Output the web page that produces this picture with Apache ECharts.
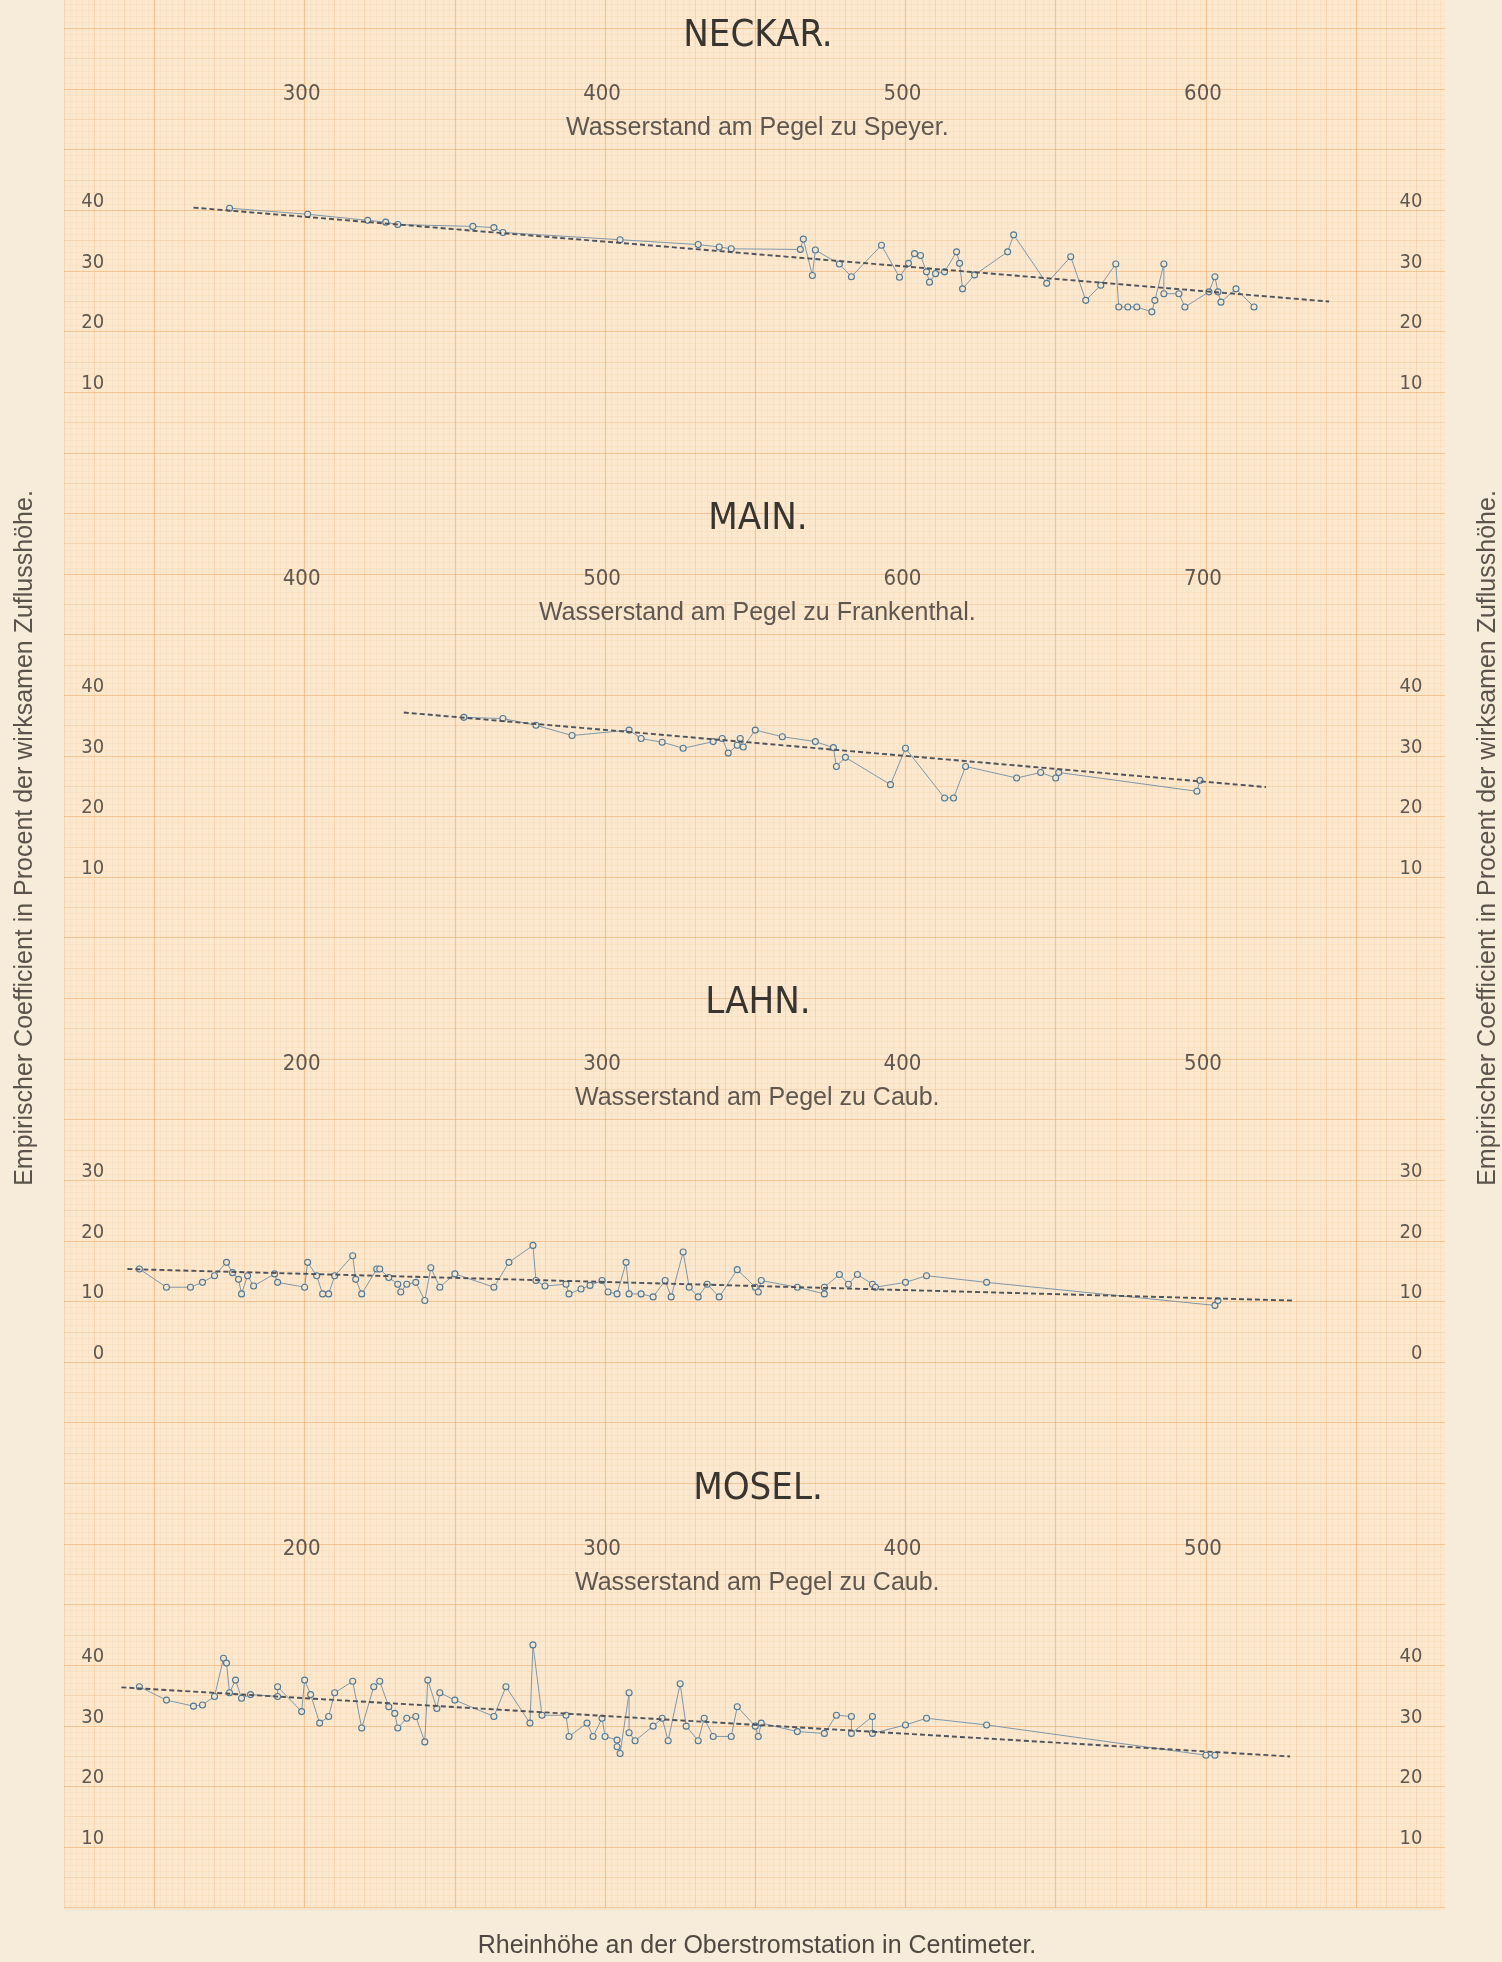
<!DOCTYPE html>
<html><head><meta charset="utf-8">
<script src="https://cdn.jsdelivr.net/npm/echarts@6/dist/echarts.min.js"></script>
<style>html,body{margin:0;padding:0;background:#f7ecd8;}#c{width:1502px;height:1962px;}</style>
</head><body><div id="c"></div>
<script>
// ---------------- data ----------------
const riverTitles = ['NECKAR.', 'MAIN.', 'LAHN.', 'MOSEL.'];
const gaugeNames = ['Wasserstand am Pegel zu Speyer.', 'Wasserstand am Pegel zu Frankenthal.', 'Wasserstand am Pegel zu Caub.', 'Wasserstand am Pegel zu Caub.'];
const xAxisTitle = 'Rheinhöhe an der Oberstromstation in Centimeter.';
const yAxisTitle = 'Empirischer Coefficient in Procent der wirksamen Zuflusshöhe.';

const neckarXTicks = [300, 400, 500, 600];
const mainXTicks = [400, 500, 600, 700];
const lahnXTicks = [200, 300, 400, 500];
const moselXTicks = [200, 300, 400, 500];
const neckarYTicks = [10, 20, 30, 40];
const mainYTicks = [10, 20, 30, 40];
const lahnYTicks = [0, 10, 20, 30];
const moselYTicks = [10, 20, 30, 40];

const neckarPoints = [[276,40.3],[302,39.3],[322,38.3],[328,38.0],[332,37.6],[357,37.3],[364,37.1],[367,36.3],[406,35.1],[432,34.3],[439,33.9],[443,33.6],[466,33.5],[467,35.2],[470,29.2],[471,33.4],[479,31.1],[483,29.0],[493,34.2],[499,28.9],[502,31.2],[504,32.8],[506,32.5],[508,29.8],[509,28.1],[511,29.5],[514,29.8],[518,33.1],[519,31.2],[520,27.0],[524,29.3],[535,33.1],[537,35.9],[548,27.9],[556,32.3],[561,25.1],[566,27.6],[571,31.1],[572,24.0],[575,24.0],[578,24.0],[583,23.2],[584,25.1],[587,31.1],[587,26.2],[592,26.2],[594,24.0],[602,26.5],[604,29.0],[605,26.5],[606,24.8],[611,27.0],[617,24.0]];
const neckarFit = [[264,40.4],[642,24.9]];

const mainPoints = [[454,36.3],[467,36.1],[478,35.0],[490,33.3],[509,34.2],[513,32.8],[520,32.2],[527,31.2],[537,32.3],[540,32.8],[542,30.4],[545,31.7],[546,32.8],[547,31.4],[551,34.2],[560,33.1],[571,32.3],[577,31.3],[578,28.2],[581,29.7],[596,25.2],[601,31.2],[614,23.0],[617,23.0],[621,28.2],[638,26.3],[646,27.2],[651,26.3],[652,27.2],[698,24.1],[699,25.9]];
const mainFit = [[434,37.1],[721,24.8]];

const lahnPoints = [[146,15.3],[155,12.3],[163,12.3],[167,13.1],[171,14.2],[175,16.4],[177,14.7],[179,13.6],[180,11.2],[182,14.2],[184,12.5],[191,14.5],[192,13.1],[201,12.3],[202,16.4],[205,14.2],[207,11.2],[209,11.2],[211,14.2],[217,17.5],[218,13.6],[220,11.2],[225,15.3],[226,15.3],[229,13.9],[232,12.8],[233,11.5],[235,12.8],[238,13.1],[241,10.1],[243,15.5],[246,12.3],[251,14.5],[264,12.3],[269,16.4],[277,19.2],[278,13.4],[281,12.5],[288,12.8],[289,11.2],[293,12.0],[296,12.6],[300,13.4],[302,11.5],[305,11.2],[308,16.4],[309,11.2],[313,11.2],[317,10.7],[321,13.4],[323,10.7],[327,18.1],[329,12.3],[332,10.7],[335,12.8],[339,10.7],[345,15.2],[351,12.3],[352,11.5],[353,13.4],[365,12.3],[374,11.2],[374,12.3],[379,14.4],[382,12.8],[385,14.4],[390,12.8],[391,12.3],[401,13.1],[408,14.2],[428,13.1],[504,9.3],[505,10.1]];
const lahnFit = [[142,15.3],[530,10.1]];

const moselPoints = [[146,36.4],[155,34.2],[164,33.2],[167,33.4],[171,34.8],[174,41.1],[175,40.3],[176,35.4],[178,37.5],[180,34.5],[183,35.1],[192,34.8],[192,36.4],[200,32.3],[201,37.5],[203,35.1],[206,30.4],[209,31.5],[211,35.4],[217,37.3],[220,29.6],[224,36.4],[226,37.3],[229,33.1],[231,32.0],[232,29.6],[235,31.2],[238,31.5],[241,27.3],[242,37.5],[245,32.8],[246,35.4],[251,34.2],[264,31.5],[268,36.4],[276,30.4],[277,43.3],[280,31.7],[288,31.7],[289,28.2],[295,30.4],[297,28.2],[300,31.2],[301,28.2],[305,27.6],[305,26.5],[306,25.4],[309,35.4],[309,28.8],[311,27.5],[317,29.9],[320,31.2],[322,27.5],[326,36.9],[328,29.9],[332,27.5],[334,31.2],[337,28.2],[343,28.2],[345,33.1],[351,29.9],[352,28.2],[353,30.4],[365,29.0],[374,28.7],[378,31.7],[383,31.5],[383,28.7],[390,31.5],[390,28.7],[401,30.1],[408,31.2],[428,30.1],[501,25.1],[504,25.1]];
const moselFit = [[140,36.3],[529,24.9]];

// ---------------- layout / style ----------------
const PXX = 3.0043;   // px per unit on x
const PXY = 6.062;    // px per unit on y
const NARROW = "'Liberation Sans Narrow','DejaVu Sans Condensed','Liberation Sans',sans-serif";
const SANS = "'Liberation Sans','DejaVu Sans',sans-serif";
const TXT = '#5f574f';
const panels = [
  {title: riverTitles[0], gauge: gaugeNames[0], xMin: 200, yMin: 0, yMax: 50, top: 149.4, titleY: 36, xTicks: neckarXTicks, yTicks: neckarYTicks, pts: neckarPoints, fit: neckarFit},
  {title: riverTitles[1], gauge: gaugeNames[1], xMin: 300, yMin: 0, yMax: 50, top: 634.3, titleY: 519, xTicks: mainXTicks, yTicks: mainYTicks, pts: mainPoints, fit: mainFit},
  {title: riverTitles[2], gauge: gaugeNames[2], xMin: 100, yMin: -10, yMax: 40, top: 1119.3, titleY: 1003, xTicks: lahnXTicks, yTicks: lahnYTicks, pts: lahnPoints, fit: lahnFit},
  {title: riverTitles[3], gauge: gaugeNames[3], xMin: 100, yMin: 0, yMax: 50, top: 1604.3, titleY: 1489, xTicks: moselXTicks, yTicks: moselYTicks, pts: moselPoints, fit: moselFit}
];

const hidden = {axisLine: {show: false}, axisTick: {show: false}, axisLabel: {show: false}};
const grids = [
  {left: 4.2, top: -32.2, width: 500 * PXX, height: 320 * PXY, containLabel: false, outerBoundsMode: 'none'},
  {left: 4.2, top: -32.2, width: 500 * PXX, height: 320 * PXY, containLabel: false, outerBoundsMode: 'none'}
];
const FINE = 'rgba(240,182,122,0.11)';
const MEDIUM = 'rgba(238,172,108,0.2)';
const MAJOR = 'rgba(236,160,90,0.45)';
const xAxes = [
  Object.assign({type: 'value', gridIndex: 0, min: 200, max: 700, interval: 2, z: 0,
    splitLine: {show: true, lineStyle: {color: FINE, width: 1}}}, hidden),
  Object.assign({type: 'value', gridIndex: 1, min: 200, max: 700, interval: 50, z: 1,
    minorTick: {show: false, splitNumber: 5},
    minorSplitLine: {show: true, lineStyle: {color: MEDIUM, width: 1}},
    splitLine: {show: true, lineStyle: {color: MAJOR, width: 1.2}}}, hidden)
];
const yAxes = [
  Object.assign({type: 'value', gridIndex: 0, min: -240, max: 80, interval: 1, z: 0,
    splitLine: {show: true, lineStyle: {color: FINE, width: 1}}}, hidden),
  Object.assign({type: 'value', gridIndex: 1, min: -240, max: 80, interval: 10, z: 1,
    minorTick: {show: false, splitNumber: 2},
    minorSplitLine: {show: true, lineStyle: {color: MEDIUM, width: 1}},
    splitLine: {show: true, lineStyle: {color: MAJOR, width: 1.2}}}, hidden)
];
const titles = [];
const series = [];

panels.forEach((p, i) => {
  const gi = 2 + i;
  grids.push({left: 1.2, top: p.top, width: 500 * PXX, height: (p.yMax - p.yMin) * PXY, containLabel: false, outerBoundsMode: 'none'});
  xAxes.push({
    type: 'value', gridIndex: gi, position: 'top', min: p.xMin, max: p.xMin + 500, interval: 100, z: 4,
    axisLine: {show: false}, axisTick: {show: false}, splitLine: {show: false},
    axisLabel: {margin: 44, fontSize: 22, fontFamily: NARROW, color: TXT,
      formatter: v => p.xTicks.includes(v) ? String(v) : ''},
    name: p.gauge, nameLocation: 'middle', nameGap: 9, nameMoveOverlap: false,
    nameTextStyle: {fontSize: 25, fontFamily: SANS, color: TXT, padding: [0, 0, 0, 10]}
  });
  const yFmt = v => p.yTicks.includes(v) ? String(v) : '';
  yAxes.push({
    type: 'value', gridIndex: gi, position: 'left', min: p.yMin, max: p.yMax, interval: 10, z: 4,
    axisLine: {show: false}, axisTick: {show: false}, splitLine: {show: false},
    axisLabel: {inside: true, margin: 103, align: 'right', verticalAlign: 'bottom', lineHeight: 16,
      fontSize: 20, fontFamily: NARROW, color: TXT, formatter: yFmt}
  });
  yAxes.push({
    type: 'value', gridIndex: gi, position: 'right', min: p.yMin, max: p.yMax, interval: 10, z: 4,
    axisLine: {show: false}, axisTick: {show: false}, splitLine: {show: false},
    axisLabel: {inside: true, margin: 81, align: 'right', verticalAlign: 'bottom', lineHeight: 16,
      fontSize: 20, fontFamily: NARROW, color: TXT, formatter: yFmt}
  });
  titles.push({text: p.title, left: 758, top: p.titleY, textAlign: 'center', textVerticalAlign: 'middle', padding: 0, z: 20,
    textStyle: {fontSize: 38, fontWeight: 'normal', fontFamily: NARROW, color: '#38342f'}});
  series.push({
    type: 'line', name: p.title, xAxisIndex: gi, yAxisIndex: 2 + 2 * i, data: p.pts,
    symbol: 'circle', symbolSize: 6, clip: false, z: 5,
    lineStyle: {color: '#7f97a9', width: 1},
    itemStyle: {color: '#f4e4cc', borderColor: '#4e7895', borderWidth: 1.1}
  });
  series.push({
    type: 'line', name: p.title + ' Mittel', xAxisIndex: gi, yAxisIndex: 2 + 2 * i, data: p.fit,
    symbol: 'none', clip: false, z: 6,
    lineStyle: {color: '#4f535b', width: 1.9, type: [5, 3]}
  });
});

titles.push({text: xAxisTitle, left: 757, top: 1946, textAlign: 'center', textVerticalAlign: 'middle', padding: 0, z: 20,
  textStyle: {fontSize: 25, fontWeight: 'normal', fontFamily: SANS, color: '#4f4842'}});

const MARGIN = '#f7ecd9';
const option = {
  backgroundColor: '#fbe8ce',
  animation: false,
  title: titles,
  grid: grids,
  xAxis: xAxes,
  yAxis: yAxes,
  series: series,
  graphic: [
    {type: 'rect', z: 10, silent: true, shape: {x: 0, y: 0, width: 64, height: 1962}, style: {fill: MARGIN}},
    {type: 'rect', z: 10, silent: true, shape: {x: 1445, y: 0, width: 57, height: 1962}, style: {fill: MARGIN}},
    {type: 'rect', z: 10, silent: true, shape: {x: 0, y: 1910, width: 1502, height: 52}, style: {fill: MARGIN}},
    {type: 'text', z: 11, silent: true, x: 25, y: 838, rotation: Math.PI / 2,
      style: {text: yAxisTitle, fontSize: 25, fontFamily: SANS, fill: '#5a534c', align: 'center', verticalAlign: 'middle'}},
    {type: 'text', z: 11, silent: true, x: 1488, y: 838, rotation: Math.PI / 2,
      style: {text: yAxisTitle, fontSize: 25, fontFamily: SANS, fill: '#5a534c', align: 'center', verticalAlign: 'middle'}}
  ]
};
const chart = echarts.init(document.getElementById('c'), null, {renderer: 'canvas'});
chart.setOption(option);
</script>
</body></html>
